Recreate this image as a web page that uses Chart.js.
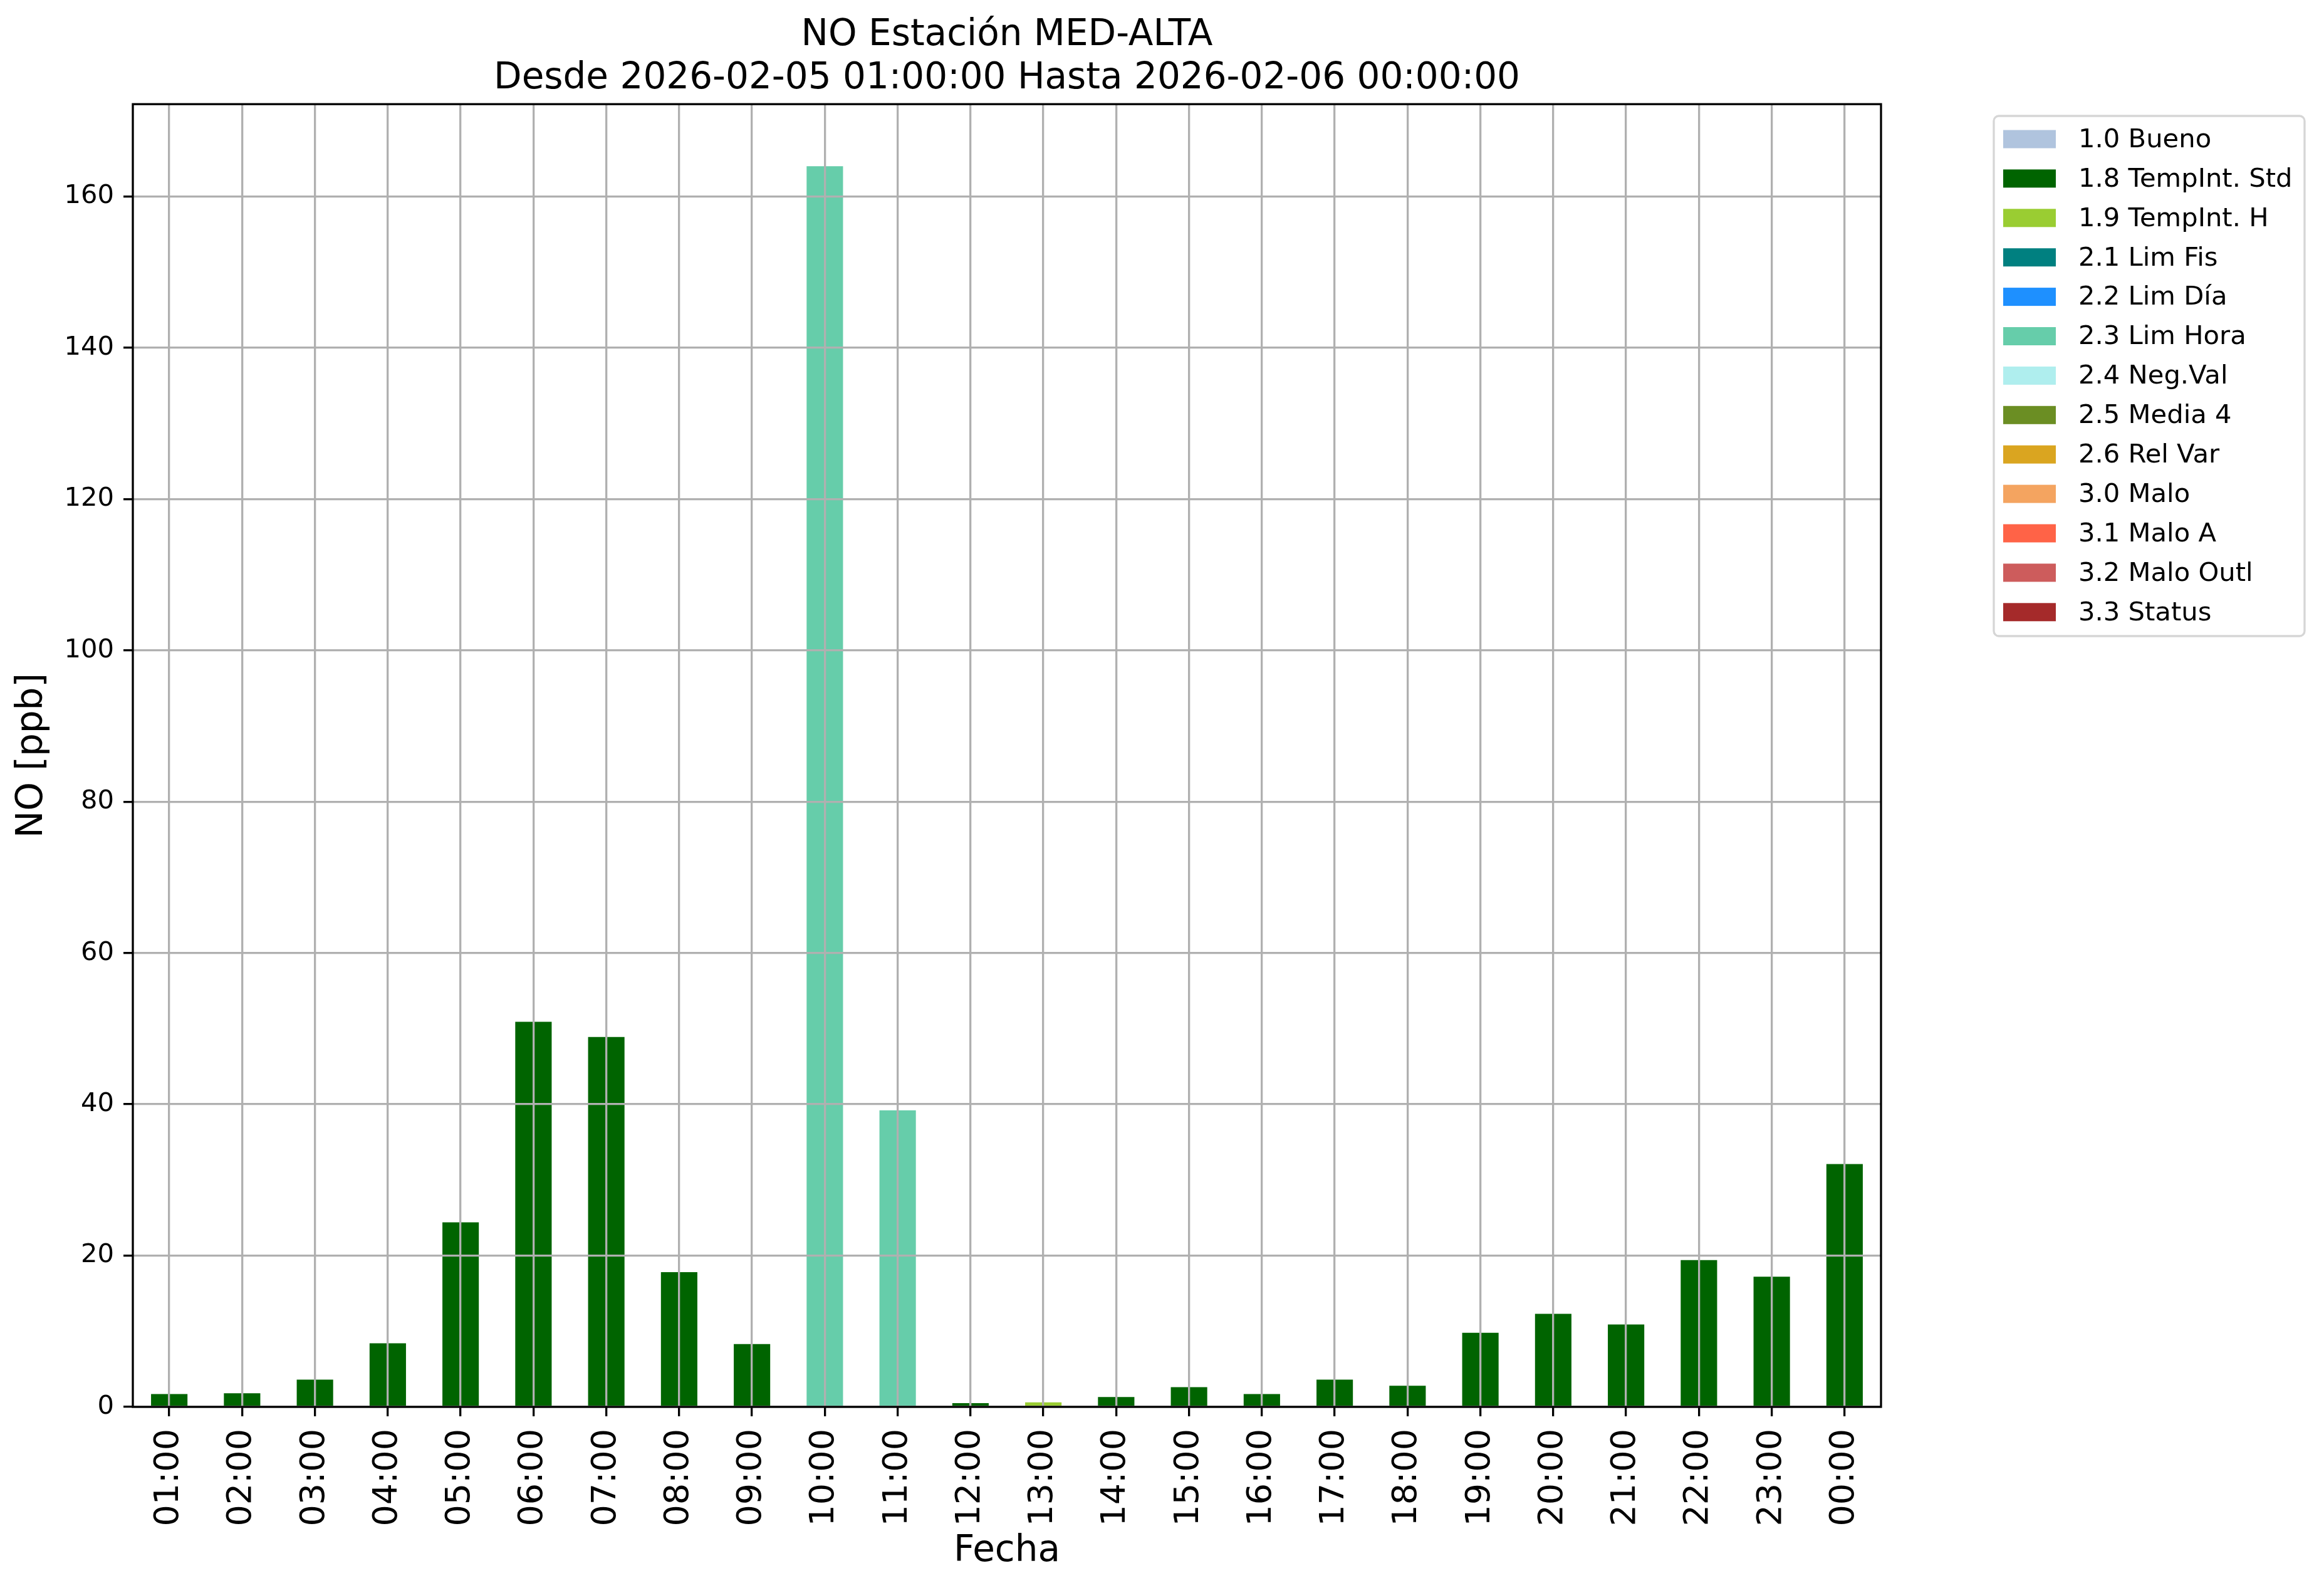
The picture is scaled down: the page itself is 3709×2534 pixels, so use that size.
<!DOCTYPE html>
<html>
<head>
<meta charset="utf-8">
<script src="https://cdn.jsdelivr.net/npm/chart.js@4.4.1/dist/chart.umd.min.js"></script>
<style>
  body { margin: 0; background: #fff; }
  canvas { display: block; }
</style>
</head>
<body>
<canvas id="chart" width="3709" height="2534"></canvas>
<script>
// hourly NO values, 2026-02-05 01:00 -> 2026-02-06 00:00
const hours = ['01:00', '02:00', '03:00', '04:00', '05:00', '06:00', '07:00', '08:00',
    '09:00', '10:00', '11:00', '12:00', '13:00', '14:00', '15:00', '16:00',
    '17:00', '18:00', '19:00', '20:00', '21:00', '22:00', '23:00', '00:00'];
const noValues = [1.7, 1.8, 3.6, 8.4, 24.4, 50.9, 48.9, 17.8,
    8.3, 164.0, 39.2, 0.5, 0.6, 1.3, 2.6, 1.7,
    3.6, 2.8, 9.8, 12.3, 10.9, 19.4, 17.2, 32.1];
const qualityFlags = ['1.8', '1.8', '1.8', '1.8', '1.8', '1.8', '1.8', '1.8',
    '1.8', '2.3', '2.3', '1.8', '1.9', '1.8', '1.8', '1.8',
    '1.8', '1.8', '1.8', '1.8', '1.8', '1.8', '1.8', '1.8'];

// flag legend
const flagCodes = ['1.0', '1.8', '1.9', '2.1', '2.2', '2.3', '2.4', '2.5', '2.6', '3.0', '3.1', '3.2', '3.3'];
const flagNames = ['Bueno', 'TempInt. Std', 'TempInt. H', 'Lim Fis', 'Lim Día', 'Lim Hora',
    'Neg.Val', 'Media 4', 'Rel Var', 'Malo', 'Malo A', 'Malo Outl', 'Status'];
const flagColors = ['#b0c4de', '#006400', '#9acd32', '#008080', '#1e90ff', '#66cdaa',
    '#afeeee', '#6b8e23', '#daa520', '#f4a460', '#ff6347', '#cd5c5c', '#a52a2a'];

const yMax = 172.2;
const yStep = 20;

const FONT = "'DejaVu Sans'";
Chart.defaults.font.family = FONT;
Chart.defaults.color = '#000';

// one dataset per flag, stacked so each hour only shows its own flag colour
const datasets = flagCodes.map((code, k) => ({
    label: code + ' ' + flagNames[k],
    data: noValues.map((v, i) => qualityFlags[i] === code ? v : null),
    backgroundColor: flagColors[k],
    borderWidth: 0,
    barPercentage: 0.5,
    categoryPercentage: 1.0
}));

// axes frame (all four sides like matplotlib)
const frame = {
    id: 'frame',
    afterDraw(chart) {
        const {ctx, chartArea: a} = chart;
        ctx.save();
        ctx.strokeStyle = '#000';
        ctx.lineWidth = 3.3;
        ctx.strokeRect(a.left, a.top, a.right - a.left, a.bottom - a.top);
        ctx.restore();
    }
};

// matplotlib style legend box, outside to the right
const legendBox = {
    id: 'legendBox',
    afterDraw(chart) {
        const {ctx, chartArea: a} = chart;
        const x0 = a.right + 180, y0 = 185, w = 496, rowH = 62.9;
        const h = 830;
        ctx.save();
        ctx.fillStyle = 'rgba(255,255,255,0.8)';
        ctx.strokeStyle = '#d6d6d6';
        ctx.lineWidth = 3.3;
        ctx.beginPath();
        ctx.roundRect(x0, y0, w, h, 8);
        ctx.fill();
        ctx.stroke();
        ctx.font = '41.7px ' + FONT;
        ctx.textBaseline = 'middle';
        ctx.textAlign = 'left';
        chart.data.datasets.forEach((ds, i) => {
            const cy = 222 + i * rowH;
            ctx.fillStyle = ds.backgroundColor;
            ctx.fillRect(x0 + 15, cy - 14.5, 84, 29);
            ctx.fillStyle = '#000';
            ctx.fillText(ds.label, x0 + 135, cy + 2);
        });
        ctx.restore();
    }
};

new Chart(document.getElementById('chart').getContext('2d'), {
    type: 'bar',
    data: {
        labels: hours,
        datasets: datasets
    },
    options: {
        responsive: false,
        animation: false,
        devicePixelRatio: 1,
        layout: {padding: {left: 0, right: 707, top: 0, bottom: 0}},
        plugins: {
            legend: {display: false},
            tooltip: {enabled: false},
            title: {
                display: true,
                fullSize: false,
                text: ['NO Estación MED-ALTA', 'Desde 2026-02-05 01:00:00 Hasta 2026-02-06 00:00:00'],
                font: {size: 58, weight: 'normal', lineHeight: 1.2},
                color: '#000',
                padding: {top: 22, bottom: 5}
            }
        },
        scales: {
            x: {
                stacked: true,
                offset: true,
                afterFit: s => { s.height = 289; },
                grid: {
                    offset: false,
                    color: '#b0b0b0',
                    lineWidth: 3.3,
                    z: 1,
                    drawTicks: true,
                    tickLength: 15,
                    tickColor: '#000',
                    tickWidth: 3.3
                },
                border: {display: false},
                ticks: {
                    autoSkip: false,
                    minRotation: 90,
                    maxRotation: 90,
                    padding: 20,
                    font: {size: 54}
                },
                title: {
                    display: true,
                    text: 'Fecha',
                    font: {size: 58},
                    padding: {top: 0, bottom: 23}
                }
            },
            y: {
                stacked: true,
                min: 0,
                max: yMax,
                afterFit: s => { s.width = 212; },
                grid: {
                    color: '#b0b0b0',
                    lineWidth: 3.3,
                    z: 1,
                    drawTicks: true,
                    tickLength: 15,
                    tickColor: '#000',
                    tickWidth: 3.3
                },
                border: {display: false},
                ticks: {
                    stepSize: yStep,
                    includeBounds: false,
                    padding: 15,
                    font: {size: 41.7}
                },
                title: {
                    display: true,
                    text: 'NO [ppb]',
                    font: {size: 58},
                    padding: {top: 17, bottom: 0}
                }
            }
        }
    },
    plugins: [frame, legendBox]
});
</script>
</body>
</html>
